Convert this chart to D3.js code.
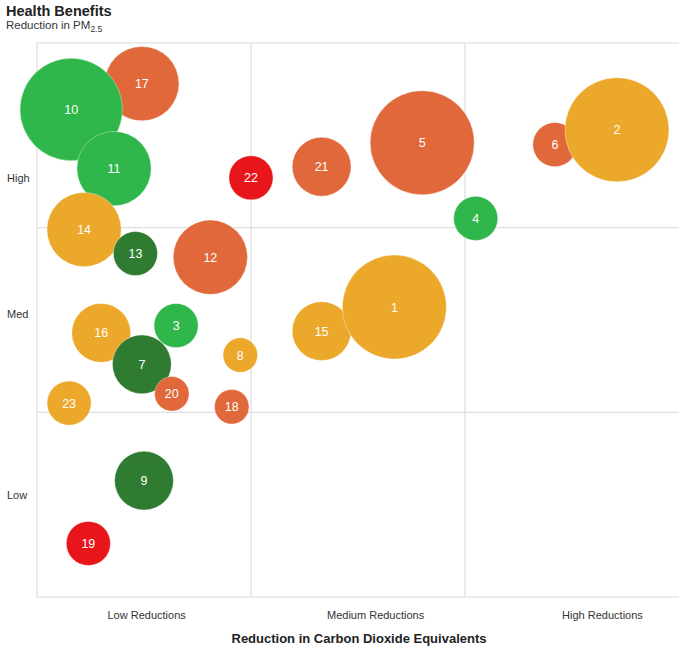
<!DOCTYPE html>
<html>
<head>
<meta charset="utf-8">
<script src="https://cdn.jsdelivr.net/npm/d3@7"></script>
<style>
  body { margin: 0; background: #fff; font-family: "Liberation Sans", Arial, sans-serif; }
  .catLabel { font-size: 11px; fill: #333; }
</style>
</head>
<body>
<script>
// bubble data (drawing order matters for the overlaps)
var ids     = [17, 10, 11, 14, 13, 12, 16, 7, 3, 20, 23, 8, 18, 9, 19, 22, 21, 5, 4, 6, 2, 15, 1];
var co2     = [0.49, 0.16, 0.36, 0.22, 0.46, 0.81, 0.30, 0.49, 0.65, 0.63, 0.15, 0.95, 0.91, 0.50, 0.24, 1.00, 1.33, 1.80, 2.05, 2.42, 2.71, 1.33, 1.67];
var health  = [2.78, 2.64, 2.32, 1.99, 1.86, 1.84, 1.43, 1.26, 1.47, 1.10, 1.05, 1.31, 1.03, 0.63, 0.29, 2.27, 2.33, 2.46, 2.05, 2.45, 2.53, 1.44, 1.57];
var sizes   = [51, 97, 51, 51, 18, 51, 32, 32, 18, 11, 18, 11, 11, 32, 18, 18, 32, 100, 18, 18, 100, 32, 100];
var groups  = ["orange", "green", "green", "yellow", "darkgreen", "orange", "yellow", "darkgreen", "green", "orange", "yellow", "yellow", "orange", "darkgreen", "red", "red", "orange", "orange", "green", "orange", "yellow", "yellow", "yellow"];

var groupNames  = ["green", "darkgreen", "orange", "yellow", "red"];
var groupColors = ["#2fb74b", "#2f7b31", "#e1683a", "#eca82b", "#e8161b"];

var xCategories = ["Low Reductions", "Medium Reductions", "High Reductions"];
var xCategoryAt = [0.51, 1.58, 2.64];
var yCategories = ["Low", "Med", "High"];
var yCategoryAt = [0.55, 1.53, 2.27];
var gridValues = [1, 2];

var width = 679;
var height = 655;

var margin = {
  top: 43,
  right: 0,
  bottom: 58,
  left: 37
};

var graphWidth = width - margin.left - margin.right;
var graphHeight = height - margin.top - margin.bottom;

var svg = d3.select("body")
            .append("svg")
            .attr("width", width)
            .attr("height", height);

var graphGroup = svg.append("g").attr("transform", `translate(${margin.left}, ${margin.top})`);

var data = ids.map(function(id, i) {
  return { id: id, x: co2[i], y: health[i], size: sizes[i], group: groups[i] };
});

// scales
var xScale = d3.scaleLinear().domain([0, 3]).range([0, graphWidth]);
var yScale = d3.scaleLinear().domain([0, 3]).range([graphHeight, 0]);
var rScale = d3.scaleSqrt().domain([0, 100]).range([0, 52]);
var colorScale = d3.scaleOrdinal().domain(groupNames).range(groupColors);

// plot frame and quadrant grid
graphGroup.append("rect")
          .attr("x", 0)
          .attr("y", 0)
          .attr("width", graphWidth + 2)
          .attr("height", graphHeight)
          .attr("fill", "none")
          .attr("stroke", "#dedede")
          .attr("stroke-width", 1.2);

graphGroup.selectAll(".vgrid")
          .data(gridValues)
          .enter()
          .append("line")
          .attr("x1", function(d) { return xScale(d); })
          .attr("x2", function(d) { return xScale(d); })
          .attr("y1", 0)
          .attr("y2", graphHeight)
          .attr("stroke", "#dedede")
          .attr("stroke-width", 1.2);

graphGroup.selectAll(".hgrid")
          .data(gridValues)
          .enter()
          .append("line")
          .attr("x1", 0)
          .attr("x2", graphWidth)
          .attr("y1", function(d) { return yScale(d); })
          .attr("y2", function(d) { return yScale(d); })
          .attr("stroke", "#dedede")
          .attr("stroke-width", 1.2);

// category axes
var bottomAxis = d3.axisBottom(xScale)
                   .tickValues(xCategoryAt)
                   .tickSize(0)
                   .tickPadding(14)
                   .tickFormat(function(d, i) { return xCategories[i]; });

var leftAxis = d3.axisLeft(yScale)
                 .tickValues(yCategoryAt)
                 .tickSize(0)
                 .tickPadding(7)
                 .tickFormat(function(d, i) { return yCategories[i]; });

var xAxisGroup = graphGroup.append("g")
                           .attr("transform", `translate(0, ${graphHeight})`)
                           .call(bottomAxis);

var yAxisGroup = graphGroup.append("g")
                           .call(leftAxis);

[xAxisGroup, yAxisGroup].forEach(function(g) {
  g.select(".domain").remove();
  g.selectAll("text")
   .attr("class", "catLabel")
   .style("font-family", "'Liberation Sans', Arial, sans-serif");
});
yAxisGroup.selectAll("text").attr("text-anchor", "start").attr("x", -30);

// bubbles
var bubbles = graphGroup.selectAll(".bubble")
                        .data(data)
                        .enter()
                        .append("g")
                        .attr("class", "bubble")
                        .attr("transform", function(d) {
                          return `translate(${xScale(d.x)}, ${yScale(d.y)})`;
                        });

bubbles.append("circle")
       .attr("r", function(d) { return rScale(d.size); })
       .attr("fill", function(d) { return colorScale(d.group); })
       .attr("stroke", "#ffffff")
       .attr("stroke-opacity", 0.35)
       .attr("stroke-width", 1);

bubbles.append("text")
       .text(function(d) { return d.id; })
       .attr("text-anchor", "middle")
       .attr("dy", "0.36em")
       .attr("fill", "#ffffff")
       .style("font-size", "12.5px");

// titles
svg.append("text")
   .attr("x", 6)
   .attr("y", 16)
   .style("font-size", "14.5px")
   .style("font-weight", "bold")
   .attr("fill", "#222")
   .text("Health Benefits");

var sub = svg.append("text")
             .attr("x", 6)
             .attr("y", 29)
             .style("font-size", "11.5px")
             .attr("fill", "#333");
sub.append("tspan").text("Reduction in PM");
sub.append("tspan").attr("dy", 3).style("font-size", "8.5px").text("2.5");

svg.append("text")
   .attr("x", 359)
   .attr("y", 643)
   .attr("text-anchor", "middle")
   .style("font-size", "13px")
   .style("font-weight", "bold")
   .attr("fill", "#222")
   .text("Reduction in Carbon Dioxide Equivalents");
</script>
</body>
</html>
